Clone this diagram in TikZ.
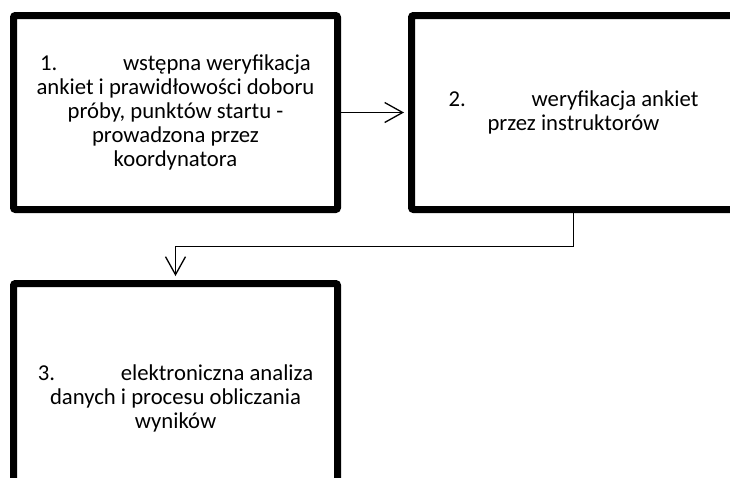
\documentclass[tikz,border=0pt]{standalone}
\usepackage{fontspec}
\setmainfont{Carlito}
\usetikzlibrary{calc}
\usetikzlibrary{shadows}
\usetikzlibrary{arrows.meta}
\tikzstyle{stagebox} = [draw, line width=7pt, rounded corners=2pt, fill=white, minimum width=324pt, minimum height=194pt, align=center, font=\fontsize{22.7pt}{24.2pt}\selectfont, drop shadow={opacity=0.3, shadow xshift=1pt, shadow yshift=-3pt}]
\tikzstyle{flow} = [line width=1.3pt, -{Straight Barb[length=18pt, width=20pt]}, shorten >=4pt]
\newcommand{\stepnum}[1]{\makebox[83pt][l]{#1}}

\begin{document}
\begin{tikzpicture}[x=1pt, y=-1pt]
\useasboundingbox (0,0) rectangle (730,477);
\node[stagebox] (verify) at (175.5,112.5) {\stepnum{1.}wstępna weryfikacja\\ankiet i prawidłowości doboru\\próby, punktów startu -\\prowadzona przez\\koordynatora};
\node[stagebox] (instr) at ($(verify)+(398,0)$) {\stepnum{2.}weryfikacja ankiet\\przez instruktorów};
\node[stagebox, minimum height=230pt] (analysis) at ($(verify)+(0,286)$) {\stepnum{3.}elektroniczna analiza\\danych i procesu obliczania\\wyników};
\draw[flow] (verify) -- (instr);
\draw[flow] (instr.south) |- ($(instr.south)!0.5!(analysis.north)$) -| (analysis.north);
\end{tikzpicture}
\end{document}
